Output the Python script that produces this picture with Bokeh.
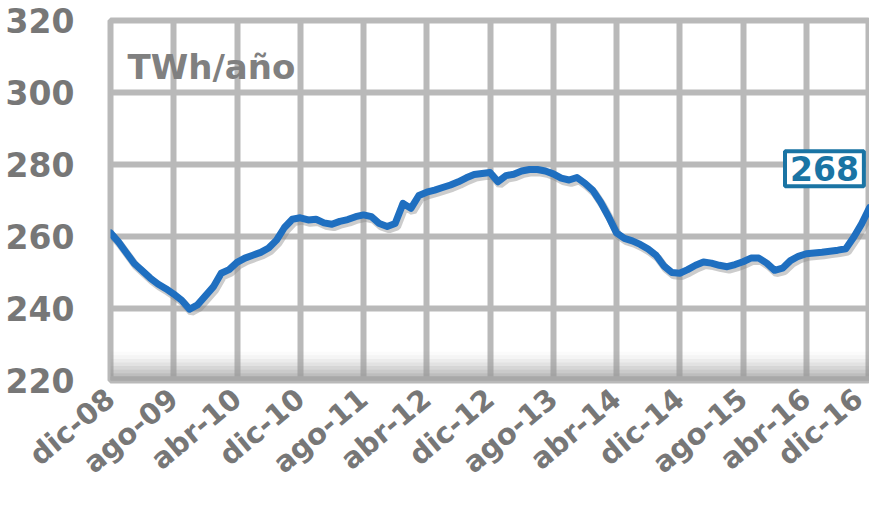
import math
from bokeh.plotting import figure
from bokeh.models import Range1d, FixedTicker, Label, BoxAnnotation, ColumnDataSource
from bokeh.transform import dodge
from bokeh.embed import file_html
from bokeh.resources import INLINE

# Monthly values, dic-08 .. dic-16 (TWh/año, 12-month rolling)
months = list(range(97))
values = [
    261.0, 258.5, 255.5, 252.5, 250.5, 248.5, 246.8, 245.5, 244.0, 242.3,
    239.8, 241.0, 243.5, 246.0, 249.8, 250.8, 252.8, 254.0, 254.8, 255.6,
    256.8, 259.0, 262.5, 264.8, 265.2, 264.6, 264.8, 263.8, 263.4, 264.2,
    264.7, 265.5, 266.0, 265.5, 263.6, 262.8, 263.6, 269.2, 267.8, 271.4,
    272.3, 272.9, 273.6, 274.3, 275.2, 276.3, 277.2, 277.5, 277.8, 275.2,
    276.9, 277.3, 278.2, 278.6, 278.6, 278.2, 277.4, 276.2, 275.7, 276.4,
    274.8, 272.8, 269.5, 265.5, 261.0, 259.5, 258.8, 257.8, 256.5, 254.8,
    251.8, 250.0, 249.8, 250.8, 252.0, 252.9, 252.6, 252.0, 251.6, 252.2,
    253.0, 254.0, 254.0, 252.6, 250.6, 251.2, 253.3, 254.5, 255.2, 255.4,
    255.6, 255.9, 256.2, 256.6, 259.8, 263.5, 268.0,
]
tick_positions = [0, 8, 16, 24, 32, 40, 48, 56, 64, 72, 80, 88, 96]
tick_labels = ["dic-08", "ago-09", "abr-10", "dic-10", "ago-11", "abr-12",
               "dic-12", "ago-13", "abr-14", "dic-14", "ago-15", "abr-16", "dic-16"]
y_ticks = [220, 240, 260, 280, 300, 320]
unit_label = "TWh/año"

FONT = "DejaVu Sans"
GRAY = "#777777"
GRID = "#b9b9b9"

p = figure(width=869, height=496, output_backend="svg", toolbar_location=None,
           x_range=Range1d(0, 96), y_range=Range1d(220, 320),
           min_border_left=110, min_border_right=0, min_border_top=20,
           min_border_bottom=116)
p.background_fill_color = "white"
p.border_fill_color = "white"
p.outline_line_color = GRID
p.outline_line_width = 6

for ax in (p.xaxis, p.yaxis):
    ax.axis_line_color = None
    ax.major_tick_line_color = None
    ax.minor_tick_line_color = None
    ax.major_label_text_font = FONT
    ax.major_label_text_font_style = "bold"
    ax.major_label_text_color = GRAY

p.yaxis.ticker = FixedTicker(ticks=y_ticks)
p.yaxis.major_label_text_font_size = "33px"
p.yaxis.major_label_standoff = 30

p.xaxis.ticker = FixedTicker(ticks=tick_positions)
p.xaxis.major_label_overrides = {t: l for t, l in zip(tick_positions, tick_labels)}
p.xaxis.major_label_orientation = math.radians(40)
p.xaxis.major_label_text_font_size = "29px"
p.xaxis.major_label_standoff = 8

# grid
p.xgrid.ticker = FixedTicker(ticks=tick_positions)
p.ygrid.ticker = FixedTicker(ticks=y_ticks)
for g in (p.xgrid, p.ygrid):
    g.grid_line_color = GRID
    g.grid_line_width = 6

# 3D floor shading
for i, a in enumerate([0.04, 0.06, 0.09, 0.12, 0.16, 0.2, 0.26, 0.34]):
    p.add_layout(BoxAnnotation(bottom=220, top=228 - i, fill_color="#9a9a9a",
                               fill_alpha=a, line_color=None, level="underlay"))
p.add_layout(BoxAnnotation(bottom=220, top=221.2, fill_color="#a8a8a8",
                           fill_alpha=1.0, line_color=None))

src = ColumnDataSource(dict(x=months, y=values))
p.line(x=dodge("x", 0.25, range=p.x_range), y=dodge("y", -0.8, range=p.y_range),
       source=src, line_color="#8f8f8f", line_alpha=0.45, line_width=8)
p.line(x="x", y="y", source=src, line_color="#1f6fc0", line_width=7,
       line_join="round", line_cap="round")

p.add_layout(Label(x=2.15, y=307.1, text=unit_label, text_font=FONT,
                   text_font_style="bold", text_font_size="34px",
                   text_color="#808080", text_baseline="middle"))

p.add_layout(Label(x=90.3, y=278.8, text=f"{values[-1]:.0f}", text_font=FONT,
                   text_font_style="bold", text_font_size="33px",
                   text_color="#1a74a4", text_align="center",
                   text_baseline="middle", border_line_color="#1a74a4",
                   border_line_width=4, background_fill_color="white",
                   padding=5))

open("out.html", "w").write(file_html(p, INLINE))
